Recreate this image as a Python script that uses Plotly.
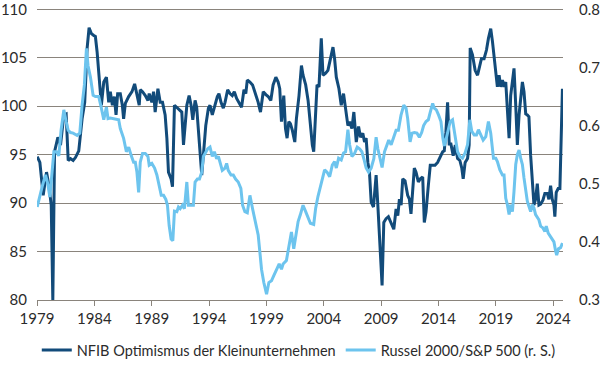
import plotly.graph_objects as go

# NFIB small business optimism (left axis)
nfib_dates = [1979.02, 1979.25, 1979.54, 1979.83, 1980.04, 1980.24, 1980.38, 1980.53, 1980.82, 1981.05,
              1981.34, 1981.54, 1981.72, 1981.92, 1982.15, 1982.35, 1982.64, 1982.93, 1983.16, 1983.37,
              1983.54, 1983.74, 1983.95, 1984.09, 1984.24, 1984.44, 1984.61, 1984.82, 1985.05, 1985.25,
              1985.39, 1985.57, 1985.74, 1985.89, 1986.03, 1986.26, 1986.44, 1986.55, 1986.70, 1986.99,
              1987.28, 1987.51, 1987.71, 1987.91, 1988.00, 1988.20, 1988.44, 1988.67, 1988.78, 1989.01,
              1989.16, 1989.30, 1989.54, 1989.74, 1989.94, 1990.17, 1990.32, 1990.46, 1990.69, 1990.81,
              1990.98, 1991.19, 1991.42, 1991.62, 1991.77, 1991.91, 1992.06, 1992.26, 1992.43, 1992.58,
              1992.78, 1992.92, 1993.07, 1993.21, 1993.36, 1993.50, 1993.71, 1993.94, 1994.08, 1994.28,
              1994.52, 1994.72, 1994.86, 1995.04, 1995.24, 1995.39, 1995.62, 1995.82, 1996.02, 1996.20,
              1996.40, 1996.60, 1996.83, 1997.04, 1997.20, 1997.33, 1997.56, 1997.79, 1997.99, 1998.28,
              1998.48, 1998.72, 1998.95, 1999.15, 1999.38, 1999.58, 1999.82, 2000.02, 2000.16, 2000.31,
              2000.51, 2000.66, 2000.80, 2000.95, 2001.09, 2001.26, 2001.47, 2001.61, 2001.84, 2002.05,
              2002.19, 2002.42, 2002.63, 2002.83, 2003.00, 2003.12, 2003.29, 2003.41, 2003.58, 2003.78,
              2003.93, 2004.16, 2004.36, 2004.57, 2004.80, 2004.94, 2005.09, 2005.32, 2005.52, 2005.72,
              2005.90, 2006.10, 2006.25, 2006.45, 2006.62, 2006.83, 2007.03, 2007.20, 2007.40, 2007.55,
              2007.69, 2007.84, 2007.98, 2008.13, 2008.33, 2008.56, 2008.71, 2008.85, 2009.00, 2009.08,
              2009.23, 2009.43, 2009.63, 2009.87, 2010.10, 2010.30, 2010.45, 2010.59, 2010.74, 2010.88,
              2011.08, 2011.31, 2011.46, 2011.60, 2011.75, 2011.89, 2012.04, 2012.24, 2012.41, 2012.62,
              2012.76, 2012.91, 2013.11, 2013.28, 2013.49, 2013.69, 2013.92, 2014.15, 2014.36, 2014.50,
              2014.64, 2014.79, 2014.93, 2015.08, 2015.28, 2015.46, 2015.66, 2015.86, 2016.03, 2016.15,
              2016.32, 2016.53, 2016.67, 2016.76, 2016.96, 2017.19, 2017.40, 2017.54, 2017.74, 2017.97,
              2018.18, 2018.35, 2018.55, 2018.70, 2018.84, 2018.99, 2019.13, 2019.28, 2019.42, 2019.57,
              2019.71, 2019.86, 2020.00, 2020.15, 2020.29, 2020.44, 2020.58, 2020.73, 2020.87, 2021.02,
              2021.16, 2021.31, 2021.45, 2021.60, 2021.74, 2021.88, 2022.03, 2022.17, 2022.32, 2022.46,
              2022.61, 2022.75, 2022.90, 2023.10, 2023.27, 2023.48, 2023.62, 2023.77, 2023.91, 2024.06,
              2024.14, 2024.26, 2024.43, 2024.58, 2024.72, 2024.80]
nfib_values = [94.8, 94.2, 90.8, 93.2, 91.8, 89.8, 80.0, 95.3, 96.8, 96.0,
               99.1, 99.2, 94.4, 94.6, 94.4, 94.7, 95.4, 98.7, 100.4, 106.0,
               108.1, 107.5, 107.3, 107.2, 105.6, 102.5, 100.1, 102.5, 103.0, 100.4,
               101.5, 100.1, 101.0, 99.1, 101.3, 101.3, 100.1, 98.7, 100.3, 101.0,
               101.5, 102.3, 101.1, 100.1, 101.7, 101.5, 101.1, 100.6, 101.3, 100.4,
               101.5, 99.4, 101.8, 100.4, 100.4, 99.1, 96.7, 93.2, 92.5, 91.7,
               100.1, 99.9, 99.6, 99.4, 96.0, 98.0, 100.1, 101.1, 100.1, 98.6,
               100.6, 99.9, 97.7, 94.9, 92.9, 94.9, 98.0, 99.8, 100.1, 99.1,
               100.1, 101.0, 101.3, 100.4, 99.8, 100.4, 101.7, 101.3, 101.1, 101.5,
               100.8, 100.4, 99.9, 101.7, 101.3, 102.7, 102.5, 102.2, 101.5, 100.4,
               99.4, 101.5, 101.2, 101.0, 100.6, 102.2, 103.0, 102.5, 101.8, 98.4,
               101.1, 97.7, 96.7, 98.4, 98.2, 97.5, 96.3, 98.7, 101.1, 104.2,
               103.2, 102.2, 100.6, 98.0, 96.0, 95.3, 100.1, 102.2, 102.0, 107.0,
               103.2, 103.4, 103.7, 104.9, 106.1, 104.9, 103.0, 101.8, 100.1, 101.3,
               99.8, 98.0, 98.4, 97.7, 99.4, 96.3, 97.9, 96.8, 97.2, 96.3,
               96.7, 94.2, 93.2, 90.1, 89.6, 92.9, 89.8, 86.3, 83.9, 81.5,
               88.0, 88.4, 88.6, 87.9, 87.3, 89.4, 88.7, 90.4, 89.8, 92.5,
               92.3, 90.8, 90.4, 88.9, 91.8, 93.6, 93.2, 92.2, 92.5, 92.7,
               88.0, 89.1, 91.8, 93.9, 93.9, 93.9, 94.2, 94.8, 95.3, 95.4,
               97.3, 100.4, 96.1, 96.1, 94.9, 96.0, 94.6, 94.4, 93.6, 92.5,
               94.2, 94.6, 96.0, 106.0, 105.3, 103.7, 103.2, 103.9, 104.9, 104.9,
               105.8, 107.0, 108.0, 106.7, 104.9, 103.2, 102.0, 103.2, 102.0, 102.7,
               102.0, 102.5, 100.1, 96.7, 101.1, 102.5, 103.9, 100.1, 96.0, 99.1,
               101.0, 102.5, 101.5, 99.2, 99.1, 98.9, 94.9, 91.8, 89.8, 90.4,
               92.0, 89.8, 89.9, 90.3, 91.0, 91.0, 90.4, 91.8, 90.4, 89.8,
               88.6, 91.1, 91.5, 91.5, 98.6, 101.8]

# Russell 2000 / S&P 500 ratio (right axis)
ratio_dates = [1979.02, 1979.25, 1979.45, 1979.74, 1979.94, 1980.12, 1980.32, 1980.47, 1980.70, 1980.90,
               1981.10, 1981.34, 1981.54, 1981.72, 1981.92, 1982.15, 1982.50, 1982.73, 1982.93, 1983.13,
               1983.31, 1983.45, 1983.66, 1983.89, 1984.09, 1984.38, 1984.61, 1984.82, 1985.05, 1985.19,
               1985.39, 1985.68, 1985.92, 1986.12, 1986.26, 1986.55, 1986.79, 1986.99, 1987.22, 1987.42,
               1987.57, 1987.71, 1987.86, 1988.00, 1988.20, 1988.44, 1988.67, 1988.78, 1989.01, 1989.25,
               1989.45, 1989.65, 1989.83, 1990.03, 1990.23, 1990.37, 1990.52, 1990.69, 1990.84, 1990.98,
               1991.19, 1991.33, 1991.48, 1991.68, 1991.85, 1992.06, 1992.20, 1992.43, 1992.63, 1992.78,
               1992.98, 1993.16, 1993.36, 1993.50, 1993.71, 1993.88, 1994.08, 1994.28, 1994.46, 1994.66,
               1994.81, 1994.98, 1995.15, 1995.39, 1995.53, 1995.67, 1995.91, 1996.11, 1996.31, 1996.54,
               1996.77, 1996.92, 1997.12, 1997.33, 1997.56, 1997.79, 1997.99, 1998.28, 1998.43, 1998.57,
               1998.77, 1999.01, 1999.21, 1999.44, 1999.64, 1999.87, 2000.11, 2000.31, 2000.45, 2000.74,
               2000.97, 2001.18, 2001.38, 2001.55, 2001.76, 2001.96, 2002.19, 2002.42, 2002.63, 2002.83,
               2003.12, 2003.29, 2003.49, 2003.70, 2003.87, 2004.07, 2004.28, 2004.51, 2004.74, 2004.94,
               2005.09, 2005.29, 2005.52, 2005.72, 2005.90, 2006.10, 2006.25, 2006.45, 2006.68, 2006.91,
               2007.12, 2007.32, 2007.49, 2007.69, 2007.90, 2008.13, 2008.36, 2008.56, 2008.71, 2008.91,
               2009.08, 2009.29, 2009.49, 2009.66, 2009.87, 2010.07, 2010.30, 2010.50, 2010.73, 2010.97,
               2011.17, 2011.31, 2011.52, 2011.69, 2011.89, 2012.12, 2012.33, 2012.53, 2012.70, 2012.91,
               2013.11, 2013.28, 2013.49, 2013.63, 2013.81, 2014.01, 2014.21, 2014.38, 2014.50, 2014.64,
               2014.85, 2015.02, 2015.22, 2015.46, 2015.66, 2015.86, 2016.09, 2016.32, 2016.53, 2016.73,
               2016.90, 2017.11, 2017.31, 2017.48, 2017.69, 2017.89, 2018.12, 2018.35, 2018.55, 2018.79,
               2018.99, 2019.13, 2019.34, 2019.57, 2019.71, 2019.86, 2020.00, 2020.15, 2020.29, 2020.44,
               2020.58, 2020.73, 2020.87, 2021.02, 2021.16, 2021.31, 2021.45, 2021.60, 2021.74, 2021.88,
               2022.03, 2022.17, 2022.32, 2022.46, 2022.61, 2022.75, 2022.90, 2023.10, 2023.27, 2023.39,
               2023.56, 2023.71, 2023.85, 2024.06, 2024.20, 2024.30, 2024.45, 2024.64, 2024.80]
ratio_values = [0.460, 0.480, 0.495, 0.515, 0.500, 0.477, 0.520, 0.555, 0.555, 0.548,
                0.592, 0.627, 0.607, 0.592, 0.588, 0.587, 0.583, 0.587, 0.635, 0.670,
                0.733, 0.703, 0.683, 0.652, 0.650, 0.650, 0.630, 0.610, 0.632, 0.612,
                0.613, 0.612, 0.610, 0.610, 0.595, 0.578, 0.555, 0.563, 0.548, 0.537,
                0.537, 0.520, 0.485, 0.537, 0.552, 0.552, 0.547, 0.532, 0.535, 0.527,
                0.515, 0.497, 0.480, 0.480, 0.473, 0.463, 0.428, 0.405, 0.402, 0.453,
                0.452, 0.460, 0.457, 0.463, 0.457, 0.503, 0.463, 0.463, 0.463, 0.503,
                0.508, 0.508, 0.520, 0.547, 0.555, 0.560, 0.563, 0.547, 0.555, 0.543,
                0.547, 0.535, 0.523, 0.527, 0.535, 0.523, 0.515, 0.515, 0.508, 0.503,
                0.492, 0.463, 0.452, 0.450, 0.480, 0.457, 0.440, 0.412, 0.382, 0.353,
                0.330, 0.310, 0.330, 0.333, 0.342, 0.353, 0.362, 0.353, 0.362, 0.368,
                0.393, 0.417, 0.388, 0.412, 0.435, 0.447, 0.463, 0.452, 0.440, 0.432,
                0.430, 0.458, 0.478, 0.495, 0.507, 0.524, 0.520, 0.512, 0.532, 0.538,
                0.527, 0.544, 0.541, 0.553, 0.555, 0.593, 0.567, 0.547, 0.552, 0.563,
                0.560, 0.555, 0.543, 0.527, 0.520, 0.527, 0.543, 0.580, 0.560, 0.543,
                0.528, 0.555, 0.567, 0.575, 0.567, 0.580, 0.592, 0.592, 0.618, 0.635,
                0.630, 0.612, 0.572, 0.587, 0.588, 0.587, 0.580, 0.588, 0.600, 0.607,
                0.610, 0.623, 0.638, 0.630, 0.627, 0.618, 0.607, 0.578, 0.565, 0.575,
                0.595, 0.607, 0.610, 0.578, 0.555, 0.547, 0.544, 0.553, 0.567, 0.610,
                0.590, 0.584, 0.584, 0.593, 0.584, 0.575, 0.581, 0.607, 0.587, 0.544,
                0.544, 0.538, 0.524, 0.515, 0.515, 0.475, 0.464, 0.447, 0.464, 0.452,
                0.487, 0.533, 0.550, 0.558, 0.544, 0.533, 0.510, 0.487, 0.470, 0.461,
                0.452, 0.464, 0.458, 0.447, 0.441, 0.438, 0.427, 0.424, 0.418, 0.427,
                0.415, 0.410, 0.405, 0.400, 0.385, 0.377, 0.388, 0.390, 0.398]

x_tick_values = [1979, 1984, 1989, 1994, 1999, 2004, 2009, 2014, 2019, 2024]
x_tick_labels = ["1979", "1984", "1989", "1994", "1999", "2004", "2009", "2014", "2019", "2024"]
left_ticks = [80, 85, 90, 95, 100, 105, 110]
right_ticks = [0.3, 0.4, 0.5, 0.6, 0.7, 0.8]
right_tick_labels = ["0.3", "0.4", "0.5", "0.6", "0.7", "0.8"]

series_names = ["NFIB Optimismus der Kleinunternehmen", "Russel 2000/S&P 500 (r. S.)"]

DARK = "#124b7a"
LIGHT = "#6dc4ee"
GRID = "#8a847c"
TEXT = "#2b2b2b"
FONT = "Lato"

fig = go.Figure()
fig.add_trace(go.Scatter(x=nfib_dates, y=nfib_values, name=series_names[0], mode="lines",
                         line=dict(color=DARK, width=3)))
fig.add_trace(go.Scatter(x=ratio_dates, y=ratio_values, name=series_names[1], mode="lines",
                         line=dict(color=LIGHT, width=3), yaxis="y2"))

fig.update_layout(
    width=600, height=380,
    margin=dict(l=37, r=37, t=1, b=80, autoexpand=False),
    paper_bgcolor="white", plot_bgcolor="white",
    font=dict(family=FONT, size=15, color=TEXT),
    showlegend=True,
    legend=dict(orientation="h", xref="container", yref="container",
                x=0.0613, xanchor="left", y=0.079, yanchor="middle",
                font=dict(family=FONT, size=14.5, color=TEXT), itemwidth=30,
                traceorder="normal", bgcolor="rgba(0,0,0,0)"),
    xaxis=dict(range=[1979, 2024.85], tickvals=x_tick_values, ticktext=x_tick_labels,
               showgrid=False, zeroline=False, showline=True, linecolor=GRID, linewidth=1,
               ticks="outside", ticklen=5, tickcolor=GRID, automargin=False,
               tickfont=dict(size=15, color=TEXT)),
    yaxis=dict(range=[80, 110.86], tickvals=left_ticks, showgrid=True, gridcolor=GRID, gridwidth=1,
               zeroline=False, showline=False, ticks="", automargin=False,
               ticklabeloverflow="allow", ticklabelstandoff=9,
               tickfont=dict(size=15, color=TEXT)),
    yaxis2=dict(range=[0.3, 0.8143], tickvals=right_ticks, ticktext=right_tick_labels,
                overlaying="y", side="right", showgrid=False, zeroline=False, showline=False,
                ticks="", automargin=False, ticklabeloverflow="allow", ticklabelstandoff=15,
                tickfont=dict(size=15, color=TEXT)),
)

fig.write_html("out.html", config={"displayModeBar": False},
               post_script="document.body.style.margin='0';document.body.style.padding='0';")
